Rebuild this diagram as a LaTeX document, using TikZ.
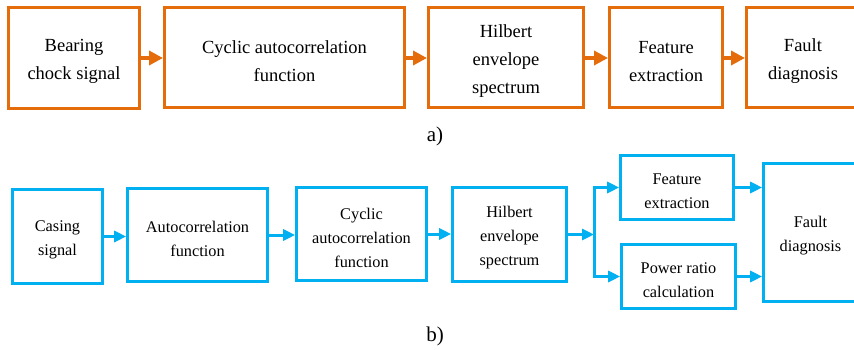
\documentclass[tikz,border=0pt]{standalone}
\usepackage{fontspec}
\setmainfont{Liberation Serif}
\usetikzlibrary{arrows.meta}
\definecolor{flowOrange}{RGB}{228,108,10}
\definecolor{flowBlue}{RGB}{0,176,240}
\tikzset{
  otext/.style={align=center, font=\fontsize{18.5}{28}\selectfont, text=black, yshift=-3.5pt, inner sep=0pt},
  btext/.style={align=center, font=\fontsize{16.3}{24}\selectfont, text=black, yshift=-3.5pt, inner sep=0pt},
  obox/.style={draw=flowOrange, line width=3pt, inner sep=0pt,
    label={[otext]center:{#1}}},
  bbox/.style={draw=flowBlue, line width=2.6pt, inner sep=0pt,
    label={[btext]center:{#1}}},
  oarr/.style={draw=flowOrange, line width=3.5pt, -{Triangle[length=14pt,width=14pt]}},
  barr/.style={draw=flowBlue, line width=3pt, -{Triangle[length=12pt,width=11pt]}},
  sublabel/.style={font=\fontsize{21}{24}\selectfont},
}
\begin{document}
\begin{tikzpicture}[x=1pt,y=-1pt]
\useasboundingbox (0,0) rectangle (854,350);
\clip (0,0) rectangle (854,350);
\fill[white] (0,0) rectangle (854,350);

% (a) bearing chock signal chain
\node[obox={Bearing\\chock signal}, minimum width=131pt, minimum height=101pt] (A1) at (74,58) {};
\node[obox={Cyclic autocorrelation\\function}, minimum width=240pt, minimum height=100pt] (A2) at (284.5,58) {};
\node[obox={Hilbert\\envelope\\spectrum}, minimum width=155pt, minimum height=100pt] (A3) at (506,58) {};
\node[obox={Feature\\extraction}, minimum width=113pt, minimum height=100pt] (A4) at (666,58) {};
\node[obox={Fault\\diagnosis}, minimum width=113pt, minimum height=100pt] (A5) at (803,58) {};
\draw[oarr] (A1.east) -- (A2.west);
\draw[oarr] (A2.east) -- (A3.west);
\draw[oarr] (A3.east) -- (A4.west);
\draw[oarr] (A4.east) -- (A5.west);
\node[sublabel] (la) at (435,136) {a)};

% (b) casing signal chain
\node[bbox={Casing\\signal}, minimum width=90pt, minimum height=94pt] (B1) at (57.5,236.5) {};
\node[bbox={Autocorrelation\\function}, minimum width=140pt, minimum height=93pt] (B2) at (197.5,235) {};
\node[bbox={Cyclic\\autocorrelation\\function}, minimum width=130pt, minimum height=93pt] (B3) at (361.5,234) {};
\node[bbox={Hilbert\\envelope\\spectrum}, minimum width=114pt, minimum height=94pt] (B4) at (509.5,234.5) {};
\node[bbox={Feature\\extraction}, minimum width=113pt, minimum height=64pt] (B5) at (677,187.5) {};
\node[bbox={Power ratio\\calculation}, minimum width=114pt, minimum height=64pt] (B6) at (678.5,276.5) {};
\node[bbox={Fault\\diagnosis}, minimum width=94pt, minimum height=138pt] (B7) at (810.5,232.5) {};
\coordinate (br) at (594,234.5);
\draw[barr] (B1.east) -- (B1.east -| B2.west);
\draw[barr] (B2.east) -- (B2.east -| B3.west);
\draw[barr] (B3.east) -- (B3.east -| B4.west);
\draw[barr] (B4.east) -- (br);
\draw[barr] (br) |- (B5.west);
\draw[barr] (br) |- (B6.west);
\draw[barr] (B5.east) -- (B5.east -| B7.west);
\draw[barr] (B6.east) -- (B6.east -| B7.west);
\node[sublabel] (lb) at (435,336) {b)};
\end{tikzpicture}
\end{document}
